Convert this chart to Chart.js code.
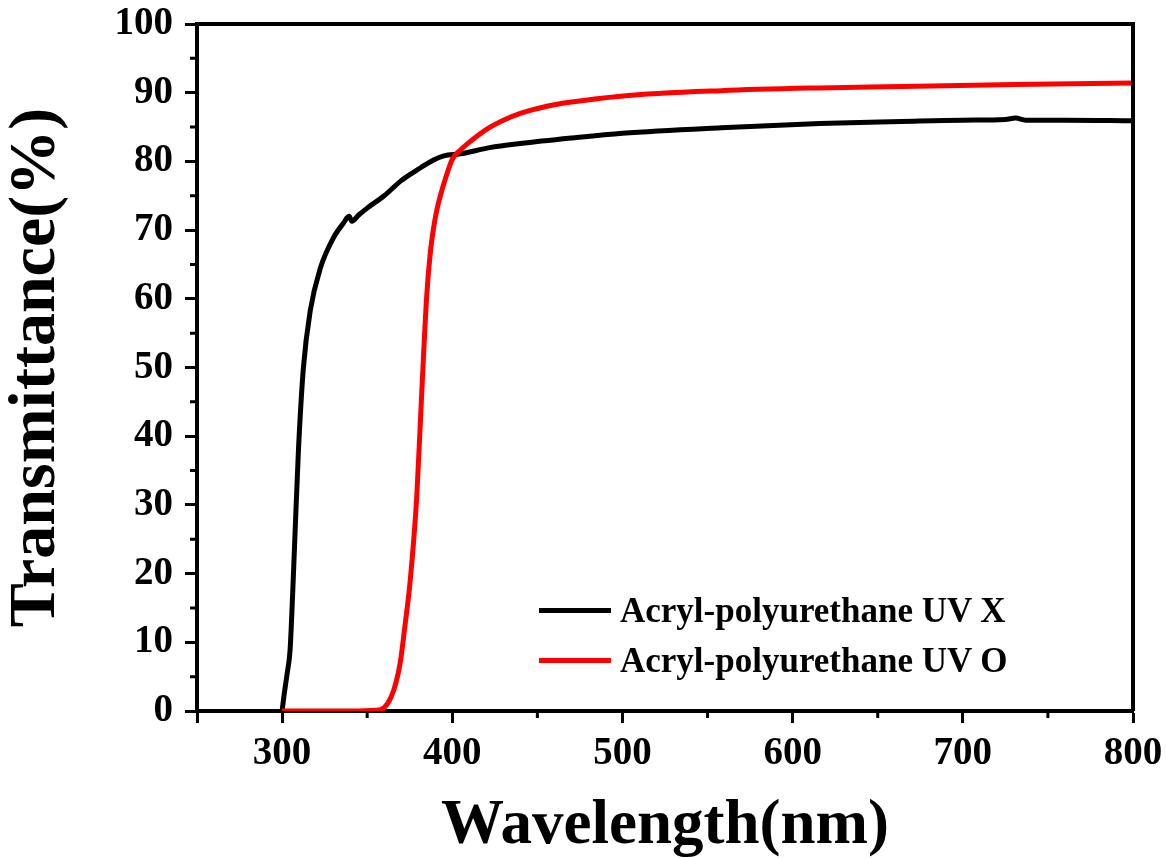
<!DOCTYPE html>
<html lang="en">
<head>
  <meta charset="UTF-8" />
  <title>Transmittance – Acryl-polyurethane</title>
  <script src="https://cdn.jsdelivr.net/npm/chart.js"></script>
  <style>
    body { margin: 0; background: #fff; }
    #wrap { position: relative; width: 1166px; height: 858px; }
    #legend { position: absolute; left: 0; top: 0; }
    .lg-line { position: absolute; height: 5px; width: 72px; left: 539px; }
    .lg-text { position: absolute; left: 620px; font: bold 35px "Liberation Serif", "Times New Roman", serif;
               line-height: 1; white-space: nowrap; color: #000; }
  </style>
</head>
<body>
  <div id="wrap">
    <canvas id="chart" width="1166" height="858"></canvas>
    <div id="legend"></div>
  </div>

  <script>
    // curve readings (wavelength in nm, transmittance in %)
    const blackNm = [300, 301, 303, 304.7, 306.2, 307.6, 309.6, 312.5, 316.5, 322.4, 330, 336, 339.4, 341, 345, 350,
                     360, 370, 379, 389, 395, 404.7, 422, 440, 470, 500, 558, 616, 664, 700, 725, 731, 737, 760, 800];
    const blackT  = [0, 2, 5.5, 8.9, 17, 25.8, 37.9, 49.9, 58.2, 64.4, 68.8, 71, 72, 71.3, 72.2, 73.2,
                     75, 77.2, 78.7, 80.2, 80.8, 81.1, 82, 82.6, 83.4, 84.1, 84.9, 85.5, 85.8, 86.0, 86.1, 86.3, 86.0, 86.0, 85.9];

    const redNm = [300, 340, 355, 360, 364, 367, 369.4, 372, 375.3, 379.2, 382, 385, 387, 389, 391, 393, 396, 400,
                   405, 410.6, 421, 430, 440, 455, 469, 499, 558, 616, 664, 730, 800];
    const redT  = [0, 0, 0.1, 0.5, 2, 4.2, 7, 12, 19, 31.5, 46, 60.5, 66.5, 70.3, 73, 75, 77.5, 80.3,
                   81.7, 82.9, 84.8, 86.0, 87.0, 88.0, 88.6, 89.5, 90.3, 90.7, 90.9, 91.2, 91.4];

    const seriesNames = ["Acryl-polyurethane UV X", "Acryl-polyurethane UV O"];
    const seriesColors = ["#000000", "#ff0000"];

    const xMajorTicks = [250, 300, 400, 500, 600, 700, 800];
    const xMinorTicks = [350, 450, 550, 650, 750];
    const yMinorTicks = [5, 15, 25, 35, 45, 55, 65, 75, 85, 95];

    const toPts = (xs, ys) => xs.map((x, i) => ({ x: x, y: ys[i] }));

    const serif = "'Liberation Serif', 'Times New Roman', serif";

    // frame on top/right + minor ticks
    const framePlugin = {
      id: "frame",
      afterDraw(chart) {
        const { ctx, chartArea: a, scales } = chart;
        ctx.save();
        ctx.strokeStyle = "#000";
        ctx.lineWidth = 4;
        ctx.beginPath();
        ctx.moveTo(a.left, a.top);
        ctx.lineTo(a.right, a.top);
        ctx.lineTo(a.right, a.bottom);
        ctx.stroke();
        ctx.lineWidth = 3;
        ctx.beginPath();
        yMinorTicks.forEach(v => {
          const y = scales.y.getPixelForValue(v);
          ctx.moveTo(a.left - 7, y); ctx.lineTo(a.left, y);
        });
        xMinorTicks.forEach(v => {
          const x = scales.x.getPixelForValue(v);
          ctx.moveTo(x, a.bottom); ctx.lineTo(x, a.bottom + 7);
        });
        ctx.stroke();
        ctx.restore();
      }
    };

    const chart = new Chart(document.getElementById("chart"), {
      type: "line",
      data: {
        datasets: [
          { label: seriesNames[0], data: toPts(blackNm, blackT), borderColor: seriesColors[0], order: 1 },
          { label: seriesNames[1], data: toPts(redNm, redT), borderColor: seriesColors[1], order: 0 }
        ]
      },
      options: {
        responsive: false,
        animation: false,
        layout: { padding: { left: 0, right: 33, top: 24, bottom: 0 } },
        elements: {
          line: { borderWidth: 5, cubicInterpolationMode: "monotone", fill: false },
          point: { radius: 0 }
        },
        plugins: { legend: { display: false }, tooltip: { enabled: false } },
        scales: {
          x: {
            type: "linear", min: 250, max: 800,
            afterBuildTicks: s => { s.ticks = xMajorTicks.map(v => ({ value: v })); },
            afterFit: s => { s.height = 147; s.paddingLeft = 0; s.paddingRight = 0; },
            ticks: {
              padding: 8, color: "#000",
              font: { family: serif, size: 39, weight: "bold" },
              callback: v => (v === 250 ? "" : v)
            },
            grid: { drawOnChartArea: false, tickLength: 12, tickWidth: 3, tickColor: "#000" },
            border: { display: true, color: "#000", width: 4 },
            title: {
              display: true, text: "Wavelength(nm)", color: "#000",
              font: { family: serif, size: 63, weight: "bold", lineHeight: 1 },
              padding: { top: 0, bottom: 0 }
            }
          },
          y: {
            min: 0, max: 100,
            afterFit: s => { s.width = 197; s.paddingTop = 0; s.paddingBottom = 0; },
            ticks: {
              stepSize: 10, padding: 12, color: "#000",
              font: { family: serif, size: 39, weight: "bold" }
            },
            grid: { drawOnChartArea: false, tickLength: 12, tickWidth: 3, tickColor: "#000" },
            border: { display: true, color: "#000", width: 4 },
            title: {
              display: true, text: "Transmittance(%)", color: "#000",
              font: { family: serif, size: 66, weight: "bold", lineHeight: 1 },
              padding: { top: 4, bottom: 0 }
            }
          }
        }
      },
      plugins: [framePlugin]
    });

    // legend inside the plot, bottom right
    const legendEl = document.getElementById("legend");
    const rowY = [610, 660];
    chart.data.datasets.forEach((ds, i) => {
      const line = document.createElement("div");
      line.className = "lg-line";
      line.style.top = (rowY[i] - 2.5) + "px";
      line.style.background = ds.borderColor;
      const txt = document.createElement("div");
      txt.className = "lg-text";
      txt.style.top = (rowY[i] - 17) + "px";
      txt.textContent = ds.label;
      legendEl.appendChild(line);
      legendEl.appendChild(txt);
    });
  </script>
</body>
</html>
